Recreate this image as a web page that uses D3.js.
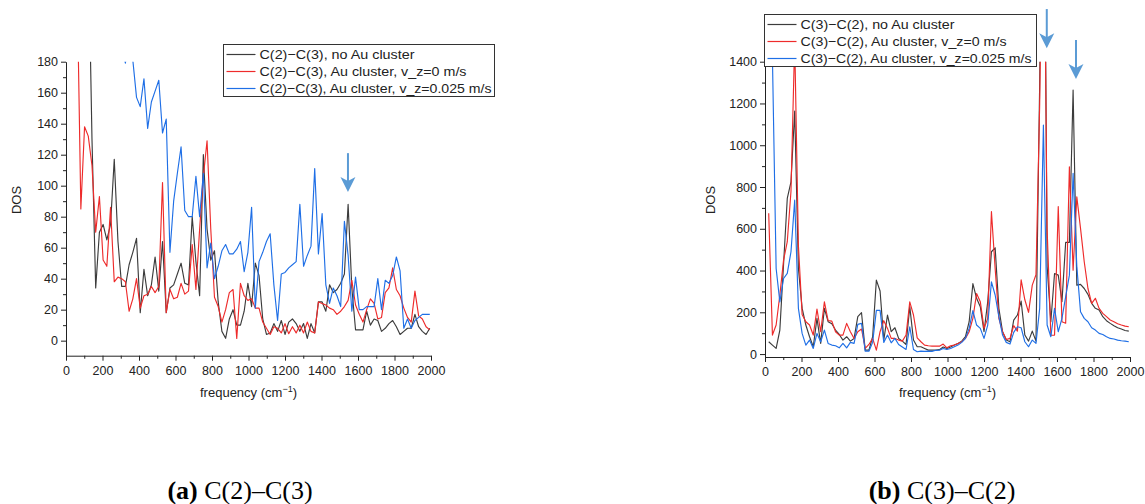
<!DOCTYPE html>
<html>
<head>
<meta charset="utf-8">
<script src="https://cdn.jsdelivr.net/npm/d3@7"></script>
<style>
  body { margin: 0; background: #fff; }
  svg { display: block; }
</style>
</head>
<body>
<svg id="fig" width="1145" height="504"></svg>
<script>
// Sampling interval of the DOS spectra (cm^-1); sample i sits at i * freqStep
const freqStep = 20.34;

const xMajorTicks = [0, 200, 400, 600, 800, 1000, 1200, 1400, 1600, 1800, 2000];
const xMinorTicks = [100, 300, 500, 700, 900, 1100, 1300, 1500, 1700, 1900];
const yMajorTicksA = [0, 20, 40, 60, 80, 100, 120, 140, 160, 180];
const yMinorTicksA = [10, 30, 50, 70, 90, 110, 130, 150, 170];
const yMajorTicksB = [0, 200, 400, 600, 800, 1000, 1200, 1400];
const yMinorTicksB = [100, 300, 500, 700, 900, 1100, 1300];

const seriesNamesA = ["C(2)\u2212C(3), no Au cluster", "C(2)\u2212C(3), Au cluster, v_z=0 m/s", "C(2)\u2212C(3), Au cluster, v_z=0.025 m/s"];
const seriesNamesB = ["C(3)\u2212C(2), no Au cluster", "C(3)\u2212C(2), Au cluster, v_z=0 m/s", "C(3)\u2212C(2), Au cluster, v_z=0.025 m/s"];
const seriesColors = ["#3c3c3c", "#ee2b2b", "#1f6fe6"];

// (a) C(2)-C(3)
const dosA_noAu = [null, null, null, null, null, null, 260, 130, 34, 70,
  75, 65, 75, 117, 64, 35, 35, 49, 57, 66,
  18, 46, 29, 36, 54, 32, 64, 18, 34, 36,
  43, 50, 37, 36, 80, 51, 29, 120, 72, 52,
  58, 25, 6, 1.5, 14, 20, 10, 10, 19, 37,
  22, 50, 42, 14, 4, 5, 11, 6, 13, 4,
  12, 14, 11, 6, 11, 1.5, 11, 5, 25, 25,
  19, 36, 31, 33, 37, 43, 88, 34, 7, 7,
  7, 19, 10, 14, 13, 6, 8, 11, 13, 9,
  4, 6, 8, 8, 17, 9, 6, 4, 8];
const dosA_v0 = [null, null, null, 231, 85, 138, 132, 113, 70, 93,
  52, 48, 86, 38, 41, 40, 38, 19, 27, 40,
  21, 29, 30, 35, 31, 35, 102, 18, 33, 27,
  28, 37, 30, 32, 62, 33, 72, 106, 129, 72,
  28, 22, 12, 20, 31, 33, 1.5, 37, 29, 26,
  27, 21, 21, 12, 8, 4, 9, 8, 5, 11,
  4.5, 9, 5, 10, 5, 12, 6, 5, 25, 24,
  23, 21, 20, 17, 19, 22, 26, 39, 23, 17,
  12, 20, 27, 24, 14, 15, 31, 34, 47, 33,
  29, 21, 15, 12, 32, 16, 14, 9, 7];
const dosA_v025 = [null, null, null, null, null, null, null, null, null, null,
  null, null, null, null, 200, 190, 179, 195, 181, 157,
  151, 169, 137, 154, 161, 168, 134, 143, 57, 90,
  108, 125, 84, 80, 80, 106, 80, 108, 47, 63,
  40, 48, 58, 62, 56, 56, 59, 64, 44.5, 57,
  86, 21, 51, 57, 64, 69, 36, 13, 43, 44,
  47, 49, 51, 88, 48, 55, 61, 111, 56, 82,
  36, 24, 34, 29, 22, 77, 55, 19, 41, 20,
  20, 22, 22, 22, 40, 20, 39, 37, 42, 54,
  45, 8, 14, 8, 13, 15, 17, 17, 17];

// (b) C(3)-C(2)
const dosB_noAu = [null, 59, 43, 27, 115, 430, 745, 825, 1164, 410,
  220, 139, 83, 35, 171, 51, 219, 155, 145, 115,
  94, 67, 83, 62, 75, 179, 198, 19, 19, 83,
  354, 302, 67, 187, 107, 126, 75, 62, 46, 227,
  67, 35, 35, 27, 19, 19, 19, 21, 34, 27,
  34, 43, 51, 62, 83, 155, 337, 267, 227, 107,
  250, 490, 509, 219, 107, 67, 59, 163, 187, 254,
  91, 62, 110, 62, 1300, 3000, 420, 155, 386, 378,
  251, 535, 535, 1264, 330, 334, 314, 286, 243, 219,
  211, 179, 160, 147, 136, 126, 120, 113, 110];
const dosB_v0 = [null, 674, 91, 139, 283, 450, 538, 780, 1500, 520,
  190, 155, 139, 91, 215, 107, 250, 160, 158, 107,
  91, 91, 147, 107, 75, 107, 120, 27, 46, 75,
  19, 107, 160, 123, 75, 75, 67, 62, 91, 250,
  187, 78, 59, 43, 40, 38, 38, 38, 48, 30,
  40, 43, 51, 59, 75, 107, 171, 290, 251, 123,
  171, 682, 410, 171, 107, 70, 75, 136, 110, 355,
  260, 200, 330, 380, 1200, 2500, 600, 90, 91, 706,
  155, 148, 897, 402, 753, 602, 442, 314, 243, 267,
  219, 195, 179, 163, 155, 145, 139, 134, 131];
const dosB_v025 = [null, 1900, 1420, 410, 250, 362, 386, 490, 737, 219,
  99, 43, 67, 27, 99, 59, 115, 51, 43, 40,
  30, 51, 30, 56, 51, 142, 147, 14, 14, 56,
  209, 209, 56, 91, 54, 75, 46, 34, 22, 131,
  22, 11, 14, 13, 14, 13, 18, 19, 27, 22,
  27, 35, 43, 56, 75, 123, 208, 139, 123, 75,
  139, 346, 283, 179, 91, 56, 48, 104, 131, 126,
  59, 35, 67, 51, 219, 1097, 139, 83, 219, 107,
  171, 275, 378, 865, 420, 203, 171, 155, 126, 115,
  99, 94, 83, 75, 72, 67, 64, 62, 59];

// Peak markers: frequency, arrow tail value, arrow tip value
const arrowsA = [{ freq: 1545, from: 121, to: 96 }];
const arrowsB = [{ freq: 1544, from: 1652, to: 1465 }, { freq: 1704, from: 1504, to: 1317 }];

const sansFont = "'Liberation Sans', Arial, sans-serif";
const serifFont = "'Liberation Serif', 'Times New Roman', serif";

const svg = d3.select("#fig");
svg.append("rect").attr("width", 1145).attr("height", 504).attr("fill", "#fff");

function drawPanel(opt) {
  const g = svg.append("g").style("font-family", sansFont);
  const x = d3.scaleLinear().domain([0, 2000]).range([opt.x0, opt.x1]);
  const y = d3.scaleLinear().domain(opt.yDomain).range([opt.yBottom, opt.yTop]);

  svg.append("clipPath").attr("id", opt.id + "-clip")
    .append("rect")
    .attr("x", opt.x0).attr("y", opt.yTop)
    .attr("width", opt.x1 - opt.x0 + 2).attr("height", opt.yBottom - opt.yTop);

  const line = d3.line()
    .defined(d => d != null)
    .x((d, i) => x(i * freqStep))
    .y(d => y(d));

  opt.series.forEach((vals, si) => {
    g.append("path")
      .attr("clip-path", `url(#${opt.id}-clip)`)
      .attr("d", line(vals))
      .attr("fill", "none")
      .attr("stroke", seriesColors[si])
      .attr("stroke-width", 1.15)
      .attr("stroke-linejoin", "round");
  });

  // x axis
  const xa = g.append("g").attr("transform", `translate(0,${opt.yBottom})`)
    .call(d3.axisBottom(x).tickValues(xMajorTicks).tickSize(5).tickSizeOuter(0).tickPadding(5).tickFormat(d3.format("d")));
  g.append("g").attr("transform", `translate(0,${opt.yBottom})`)
    .call(d3.axisBottom(x).tickValues(xMinorTicks).tickSize(3).tickSizeOuter(0).tickFormat(""))
    .select(".domain").remove();

  // y axis
  const ya = g.append("g").attr("transform", `translate(${opt.x0},0)`)
    .call(d3.axisLeft(y).tickValues(opt.yMajor).tickSize(5).tickSizeOuter(0).tickPadding(3).tickFormat(d3.format("d")));
  g.append("g").attr("transform", `translate(${opt.x0},0)`)
    .call(d3.axisLeft(y).tickValues(opt.yMinor).tickSize(3).tickSizeOuter(0).tickFormat(""))
    .select(".domain").remove();

  g.selectAll(".domain, .tick line").attr("stroke", "#222").attr("stroke-width", 1);
  [xa, ya].forEach(a => a.selectAll("text")
    .attr("font-size", 12.5).attr("fill", "#222")
    .attr("font-family", sansFont));

  // axis titles
  const xt = g.append("text")
    .attr("x", (opt.x0 + opt.x1) / 2).attr("y", 397)
    .attr("text-anchor", "middle").attr("font-size", 13).attr("fill", "#222");
  xt.append("tspan").text("frequency (cm");
  xt.append("tspan").attr("dy", -5).attr("font-size", 9).text("\u22121");
  xt.append("tspan").attr("dy", 5).text(")");

  g.append("text")
    .attr("transform", `translate(${opt.yTitleX},200) rotate(-90)`)
    .attr("text-anchor", "middle").attr("font-size", 13).attr("fill", "#222")
    .text("DOS");

  // legend
  const lg = g.append("g");
  lg.append("rect")
    .attr("x", opt.legend.x).attr("y", opt.legend.y)
    .attr("width", opt.legend.w).attr("height", opt.legend.h)
    .attr("fill", "#fff").attr("stroke", "#333").attr("stroke-width", 1);
  opt.names.forEach((name, i) => {
    const cy = opt.legend.y + 10 + i * 17;
    lg.append("line")
      .attr("x1", opt.legend.x + 3).attr("x2", opt.legend.x + 32)
      .attr("y1", cy).attr("y2", cy)
      .attr("stroke", seriesColors[i]).attr("stroke-width", 1.2);
    lg.append("text")
      .attr("x", opt.legend.x + 36).attr("y", cy + 4.5)
      .attr("font-size", 13).attr("fill", "#222")
      .attr("textLength", opt.legend.textW[i]).attr("lengthAdjust", "spacingAndGlyphs")
      .text(name);
  });

  // peak arrows
  opt.arrows.forEach(a => {
    const ax = x(a.freq), yTail = y(a.from), yTip = y(a.to);
    g.append("line")
      .attr("x1", ax).attr("x2", ax).attr("y1", yTail).attr("y2", yTip - 10)
      .attr("stroke", "#5b9bd5").attr("stroke-width", 2);
    g.append("path")
      .attr("d", `M${ax - 7.5},${yTip - 15} L${ax},${yTip - 11} L${ax + 7.5},${yTip - 15} L${ax},${yTip} Z`)
      .attr("fill", "#5b9bd5");
  });

  // panel caption
  const cap = svg.append("text")
    .attr("x", opt.captionX).attr("y", 499)
    .attr("text-anchor", "middle")
    .style("font-family", serifFont)
    .attr("font-size", 26).attr("fill", "#000");
  cap.append("tspan").attr("font-weight", "bold").text(opt.caption[0]);
  cap.append("tspan").text(" " + opt.caption[1]);
}

drawPanel({
  id: "pa", x0: 66, x1: 431, yTop: 61.7, yBottom: 355.7, yDomain: [-9.7, 180],
  yMajor: yMajorTicksA, yMinor: yMinorTicksA, yTitleX: 21,
  series: [dosA_noAu, dosA_v0, dosA_v025], names: seriesNamesA,
  legend: { x: 223.5, y: 44.5, w: 271, h: 52, textW: [155, 207, 232] },
  arrows: arrowsA, captionX: 240, caption: ["(a)", "C(2)\u2013C(3)"]
});

drawPanel({
  id: "pb", x0: 765, x1: 1130, yTop: 61.7, yBottom: 357, yDomain: [-14, 1400],
  yMajor: yMajorTicksB, yMinor: yMinorTicksB, yTitleX: 715,
  series: [dosB_noAu, dosB_v0, dosB_v025], names: seriesNamesB,
  legend: { x: 764.5, y: 14.5, w: 272, h: 52, textW: [154, 206, 231] },
  arrows: arrowsB, captionX: 942, caption: ["(b)", "C(3)\u2013C(2)"]
});
</script>
</body>
</html>
